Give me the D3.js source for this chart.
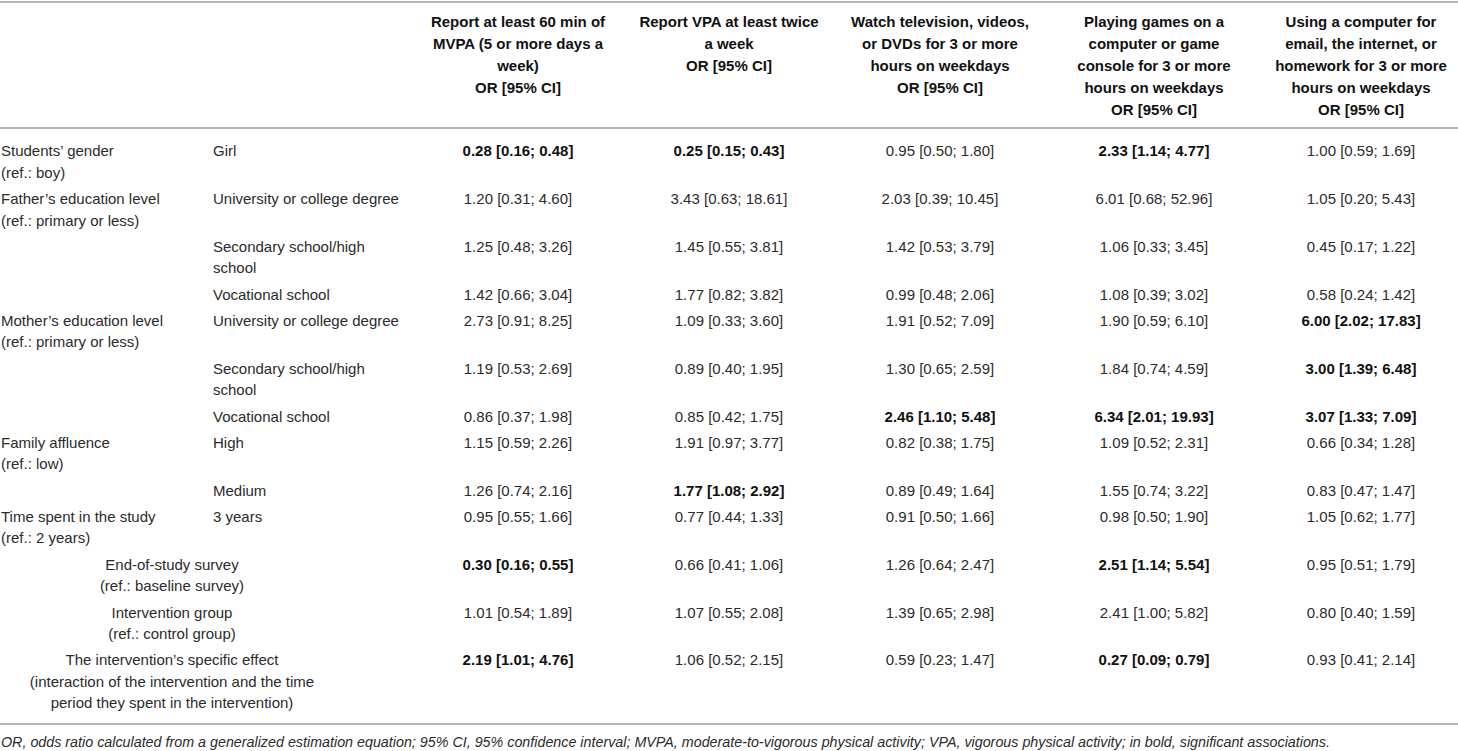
<!DOCTYPE html>
<html>
<head>
<meta charset="utf-8">
<script src="https://cdn.jsdelivr.net/npm/d3@7"></script>
<style>
  html, body { margin: 0; padding: 0; background: #fff; }
  svg { display: block; font-family: "Liberation Sans", Arial, Helvetica, sans-serif; }
</style>
</head>
<body>
<svg id="chart" width="1458" height="751"></svg>
<script>
// ---------- Data ----------
const columns = ["mvpa", "vpa", "tv", "games", "computer"];

const headers = [
  ["Report at least 60 min of", "MVPA (5 or more days a", "week)", "OR [95% CI]"],
  ["Report VPA at least twice", "a week", "OR [95% CI]"],
  ["Watch television, videos,", "or DVDs for 3 or more", "hours on weekdays", "OR [95% CI]"],
  ["Playing games on a", "computer or game", "console for 3 or more", "hours on weekdays", "OR [95% CI]"],
  ["Using a computer for", "email, the internet, or", "homework for 3 or more", "hours on weekdays", "OR [95% CI]"]
];

// variable (first column), null = blank
const variables = [
  ["Students’ gender", "(ref.: boy)"],
  ["Father’s education level", "(ref.: primary or less)"],
  null,
  null,
  ["Mother’s education level", "(ref.: primary or less)"],
  null,
  null,
  ["Family affluence", "(ref.: low)"],
  null,
  ["Time spent in the study", "(ref.: 2 years)"],
  null, null, null
];

// category (second column)
const categories = [
  ["Girl"],
  ["University or college degree"],
  ["Secondary school/high", "school"],
  ["Vocational school"],
  ["University or college degree"],
  ["Secondary school/high", "school"],
  ["Vocational school"],
  ["High"],
  ["Medium"],
  ["3 years"],
  null, null, null
];

// rows whose label spans the first two columns (centred)
const spanning = [
  null, null, null, null, null, null, null, null, null, null,
  ["End-of-study survey", "(ref.: baseline survey)"],
  ["Intervention group", "(ref.: control group)"],
  ["The intervention’s specific effect", "(interaction of the intervention and the time", "period they spent in the intervention)"]
];

const mvpa = ["0.28 [0.16; 0.48]", "1.20 [0.31; 4.60]", "1.25 [0.48; 3.26]", "1.42 [0.66; 3.04]",
  "2.73 [0.91; 8.25]", "1.19 [0.53; 2.69]", "0.86 [0.37; 1.98]", "1.15 [0.59; 2.26]",
  "1.26 [0.74; 2.16]", "0.95 [0.55; 1.66]", "0.30 [0.16; 0.55]", "1.01 [0.54; 1.89]", "2.19 [1.01; 4.76]"];
const vpa = ["0.25 [0.15; 0.43]", "3.43 [0.63; 18.61]", "1.45 [0.55; 3.81]", "1.77 [0.82; 3.82]",
  "1.09 [0.33; 3.60]", "0.89 [0.40; 1.95]", "0.85 [0.42; 1.75]", "1.91 [0.97; 3.77]",
  "1.77 [1.08; 2.92]", "0.77 [0.44; 1.33]", "0.66 [0.41; 1.06]", "1.07 [0.55; 2.08]", "1.06 [0.52; 2.15]"];
const tv = ["0.95 [0.50; 1.80]", "2.03 [0.39; 10.45]", "1.42 [0.53; 3.79]", "0.99 [0.48; 2.06]",
  "1.91 [0.52; 7.09]", "1.30 [0.65; 2.59]", "2.46 [1.10; 5.48]", "0.82 [0.38; 1.75]",
  "0.89 [0.49; 1.64]", "0.91 [0.50; 1.66]", "1.26 [0.64; 2.47]", "1.39 [0.65; 2.98]", "0.59 [0.23; 1.47]"];
const games = ["2.33 [1.14; 4.77]", "6.01 [0.68; 52.96]", "1.06 [0.33; 3.45]", "1.08 [0.39; 3.02]",
  "1.90 [0.59; 6.10]", "1.84 [0.74; 4.59]", "6.34 [2.01; 19.93]", "1.09 [0.52; 2.31]",
  "1.55 [0.74; 3.22]", "0.98 [0.50; 1.90]", "2.51 [1.14; 5.54]", "2.41 [1.00; 5.82]", "0.27 [0.09; 0.79]"];
const computer = ["1.00 [0.59; 1.69]", "1.05 [0.20; 5.43]", "0.45 [0.17; 1.22]", "0.58 [0.24; 1.42]",
  "6.00 [2.02; 17.83]", "3.00 [1.39; 6.48]", "3.07 [1.33; 7.09]", "0.66 [0.34; 1.28]",
  "0.83 [0.47; 1.47]", "1.05 [0.62; 1.77]", "0.95 [0.51; 1.79]", "0.80 [0.40; 1.59]", "0.93 [0.41; 2.14]"];

// row indices printed in bold (significant)
const sigMvpa = [0, 10, 12];
const sigVpa = [0, 8];
const sigTv = [6];
const sigGames = [0, 6, 10, 12];
const sigComputer = [4, 5, 6];

const footnote = "OR, odds ratio calculated from a generalized estimation equation; 95% CI, 95% confidence interval; " +
  "MVPA, moderate-to-vigorous physical activity; VPA, vigorous physical activity; in bold, significant associations.";

// ---------- Layout ----------
const svg = d3.select("#chart");
const W = 1458;
const fontSize = 15;
const lineH = 21.5;     // body line spacing
const rowPad = 4.8;     // extra space per row
const headLineH = 22;
const ruleColor = "#b5b5b5";
const textColor = "#2b2b2b";

const values = [mvpa, vpa, tv, games, computer];
const sig = [sigMvpa, sigVpa, sigTv, sigGames, sigComputer];

const x = d3.scaleOrdinal()
  .domain(columns)
  .range([518, 729, 940, 1154, 1361]);
const xVar = 1;
const xCat = 213;
const xSpan = 172;

// line count per row, then cumulative offsets
const nRows = mvpa.length;
const rowLines = d3.range(nRows).map(i => Math.max(
  variables[i] ? variables[i].length : 1,
  categories[i] ? categories[i].length : 1,
  spanning[i] ? spanning[i].length : 1
));
const rowStart = [0];
rowLines.forEach((n, i) => rowStart.push(rowStart[i] + n * lineH + rowPad));

const y = d3.scaleLinear().domain([0, 1]).range([151, 152]);   // offset -> pixel (1:1)
const yHead = d3.scaleLinear().domain([0, 1]).range([22, 22 + headLineH]);

// ---------- Rules ----------
const lastLine = rowStart[nRows - 1] + (rowLines[nRows - 1] - 1) * lineH;
const rules = [2, 128, y(lastLine) + 21];
svg.selectAll("line.rule")
  .data(rules)
  .enter()
  .append("line")
  .attr("class", "rule")
  .attr("x1", 0)
  .attr("x2", W)
  .attr("y1", d => d)
  .attr("y2", d => d)
  .attr("stroke", ruleColor)
  .attr("stroke-width", 2);

// helper: multi-line text
function lines(g, arr, xPos, yOf, anchor, weight, fill) {
  g.selectAll(null)
    .data(arr)
    .enter()
    .append("text")
    .attr("x", xPos)
    .attr("y", (d, k) => yOf(k))
    .attr("dy", "0.35em")
    .attr("text-anchor", anchor)
    .attr("font-size", fontSize)
    .attr("font-weight", weight)
    .attr("fill", fill)
    .text(d => d);
}

// ---------- Header ----------
const head = svg.append("g");
headers.forEach((h, c) => {
  lines(head, h, x(columns[c]), k => yHead(k), "middle", "bold", "#111");
});

// ---------- Body ----------
const body = svg.append("g");
d3.range(nRows).forEach(i => {
  const yOf = k => y(rowStart[i] + k * lineH);
  if (variables[i]) lines(body, variables[i], xVar, yOf, "start", "normal", textColor);
  if (categories[i]) lines(body, categories[i], xCat, yOf, "start", "normal", textColor);
  if (spanning[i]) lines(body, spanning[i], xSpan, yOf, "middle", "normal", textColor);
  columns.forEach((col, c) => {
    const bold = sig[c].includes(i);
    body.append("text")
      .attr("x", x(col))
      .attr("y", yOf(0))
      .attr("dy", "0.35em")
      .attr("text-anchor", "middle")
      .attr("font-size", fontSize)
      .attr("font-weight", bold ? "bold" : "normal")
      .attr("fill", bold ? "#111" : textColor)
      .text(values[c][i]);
  });
});

// ---------- Footnote ----------
svg.append("text")
  .attr("x", 1)
  .attr("y", 742)
  .attr("dy", "0.35em")
  .attr("font-size", 14.3)
  .attr("font-style", "italic")
  .attr("fill", textColor)
  .text(footnote);
</script>
</body>
</html>
